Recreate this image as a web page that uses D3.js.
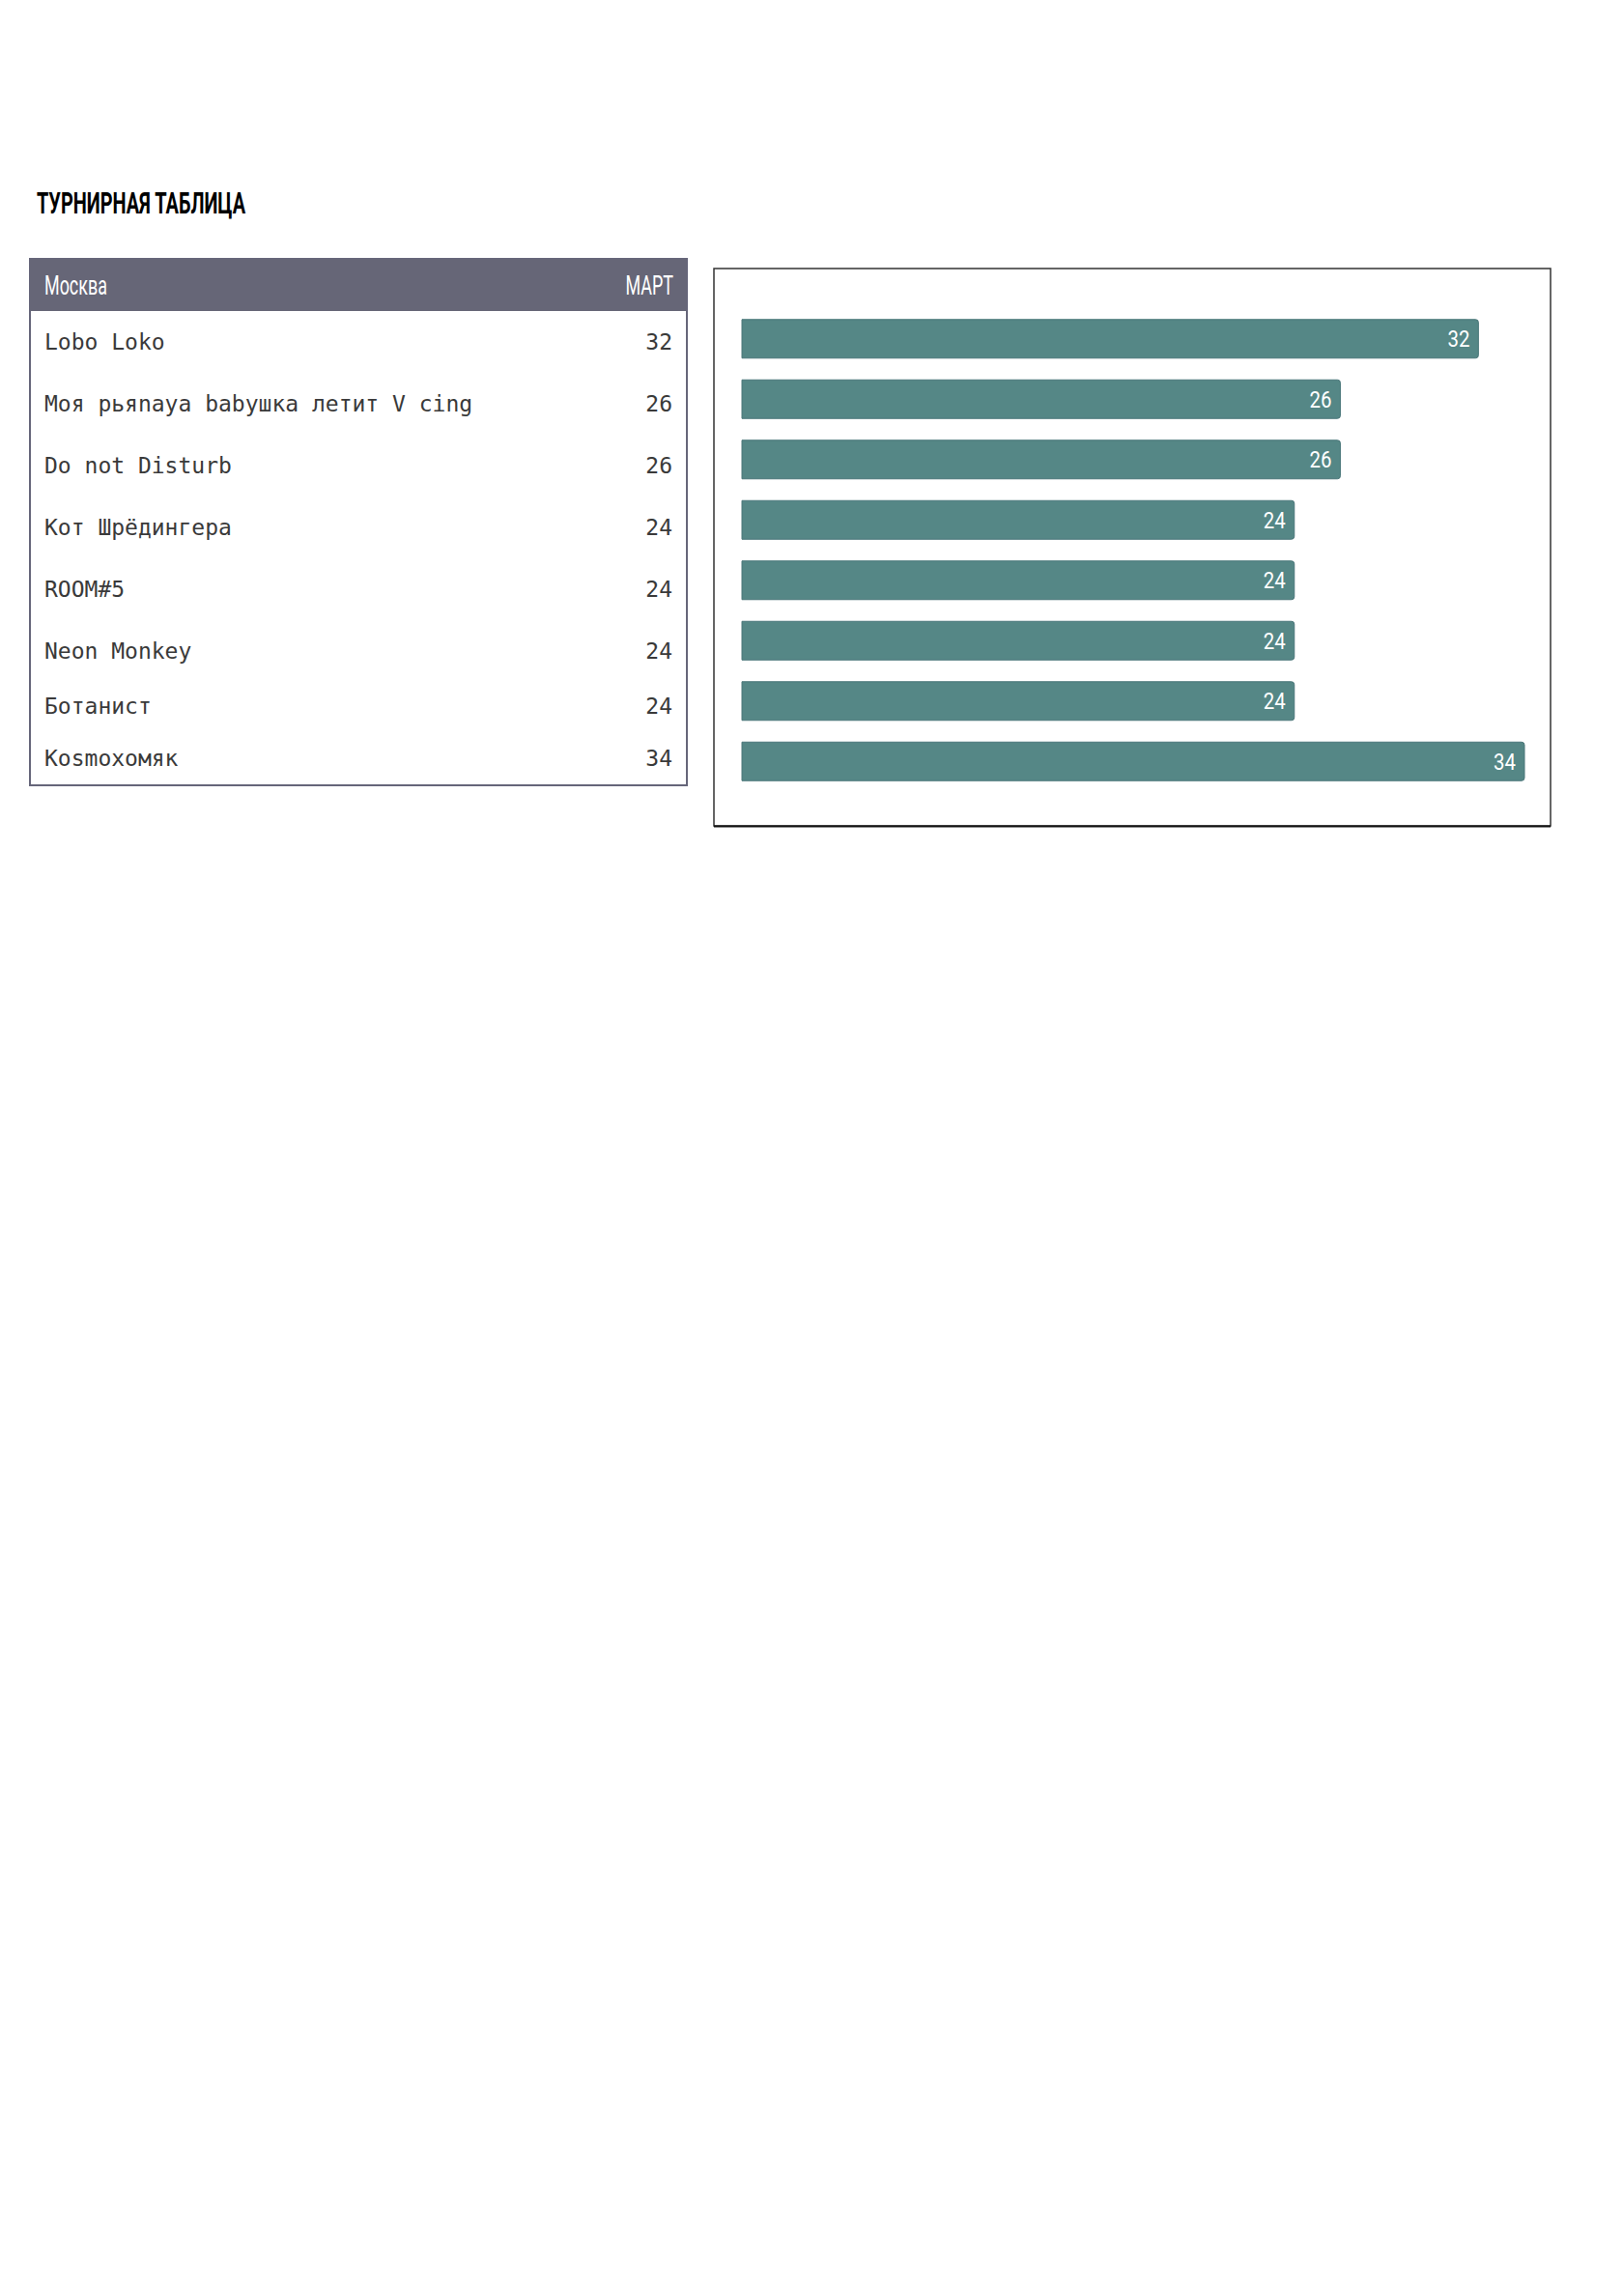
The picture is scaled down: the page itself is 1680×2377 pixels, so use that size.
<!DOCTYPE html>
<html>
<head>
<meta charset="utf-8">
<script src="https://cdn.jsdelivr.net/npm/d3@7"></script>
<style>
  body { margin: 0; background: #fff; }
  svg { display: block; }
</style>
</head>
<body>
<svg id="chart" width="1680" height="2377"></svg>
<script>
// data
const title = "ТУРНИРНАЯ ТАБЛИЦА";
const cityLabel = "Москва";
const monthLabel = "МАРТ";
const teams = [
  "Lobo Loko",
  "Моя рьяnaya babушка летит V cing",
  "Do not Disturb",
  "Кот Шрёдингера",
  "ROOM#5",
  "Neon Monkey",
  "Ботанист",
  "Kosmoxомяк"
];
const scores = [32, 26, 26, 24, 24, 24, 24, 34];

// row heights of the table (layout only)
const rowHeights = [64, 64, 64, 64, 64, 63, 52, 56];

const svg = d3.select("#chart");
const condensed = "Roboto, 'DejaVu Sans', sans-serif";
const mono = "'DejaVu Sans Mono', 'Liberation Mono', monospace";

// title
svg.append("text")
  .attr("x", 38)
  .attr("y", 221)
  .attr("font-family", condensed)
  .attr("font-weight", "bold")
  .attr("font-size", 32)
  .attr("textLength", 216)
  .attr("lengthAdjust", "spacingAndGlyphs")
  .attr("fill", "#000")
  .text(title);

// ---- table ----
const table = { x: 31, y: 268, w: 680, headH: 54 };
const rowTops = [];
let acc = table.y + table.headH;
rowHeights.forEach(h => { rowTops.push(acc); acc += h; });
const tableBottom = acc;

svg.append("rect")
  .attr("x", table.x)
  .attr("y", table.y)
  .attr("width", table.w)
  .attr("height", tableBottom - table.y)
  .attr("fill", "#fff")
  .attr("stroke", "#66667a")
  .attr("stroke-width", 2);

svg.append("rect")
  .attr("x", table.x)
  .attr("y", table.y)
  .attr("width", table.w)
  .attr("height", table.headH)
  .attr("fill", "#666677");

// condensed header labels: squeeze Roboto horizontally
function headLabel(txt, xPos, anchor) {
  svg.append("g")
    .attr("transform", `translate(${xPos},${table.y + table.headH / 2}) scale(0.64,1)`)
    .append("text")
    .attr("dy", "0.36em")
    .attr("text-anchor", anchor)
    .attr("font-family", condensed)
    .attr("font-size", 28)
    .attr("fill", "#fff")
    .text(txt);
}
headLabel(cityLabel, table.x + 15, "start");
headLabel(monthLabel, table.x + table.w - 14, "end");

const rows = svg.selectAll(".row")
  .data(teams.map((t, i) => ({ team: t, score: scores[i], top: rowTops[i], h: rowHeights[i] })))
  .enter()
  .append("g")
  .attr("class", "row")
  .attr("transform", d => `translate(0,${d.top + d.h / 2})`);

rows.append("text")
  .attr("x", table.x + 15)
  .attr("dy", "0.35em")
  .attr("font-family", mono)
  .attr("font-size", 23)
  .attr("fill", "#3a3a3a")
  .text(d => d.team);

rows.append("text")
  .attr("x", table.x + table.w - 15)
  .attr("dy", "0.35em")
  .attr("text-anchor", "end")
  .attr("font-family", mono)
  .attr("font-size", 23)
  .attr("fill", "#3a3a3a")
  .text(d => d.score);

// ---- bar chart ----
const box = { x: 739, y: 278, w: 866, h: 577 };

svg.append("rect")
  .attr("x", box.x)
  .attr("y", box.y)
  .attr("width", box.w)
  .attr("height", box.h)
  .attr("fill", "#fff")
  .attr("stroke", "#333")
  .attr("stroke-width", 1.5);

svg.append("line")
  .attr("x1", box.x)
  .attr("x2", box.x + box.w)
  .attr("y1", box.y + box.h + 0.5)
  .attr("y2", box.y + box.h + 0.5)
  .attr("stroke", "#111")
  .attr("stroke-width", 2);

const x = d3.scaleLinear()
  .domain([0, d3.max(scores)])
  .range([768, 1578]);

const y = d3.scaleBand()
  .domain(d3.range(teams.length))
  .range([319.5, 819.5])
  .paddingInner(0.36)
  .paddingOuter(0.18);

const bars = svg.selectAll(".bar")
  .data(scores)
  .enter()
  .append("g")
  .attr("class", "bar");

bars.append("path")
  .attr("fill", "#558786")
  .attr("stroke", "#4a7679")
  .attr("stroke-width", 1)
  .attr("d", (d, i) => {
    const x0 = x(0), x1 = x(d), y0 = y(i), y1 = y(i) + y.bandwidth(), r = 3;
    return `M${x0},${y0}H${x1 - r}Q${x1},${y0} ${x1},${y0 + r}V${y1 - r}Q${x1},${y1} ${x1 - r},${y1}H${x0}Z`;
  });

bars.append("g")
  .attr("transform", (d, i) => `translate(${x(d) - 9},${y(i) + y.bandwidth() / 2}) scale(0.85,1)`)
  .append("text")
  .attr("dy", "0.36em")
  .attr("text-anchor", "end")
  .attr("font-family", condensed)
  .attr("font-size", 24)
  .attr("fill", "#fff")
  .text(d => d);
</script>
</body>
</html>
